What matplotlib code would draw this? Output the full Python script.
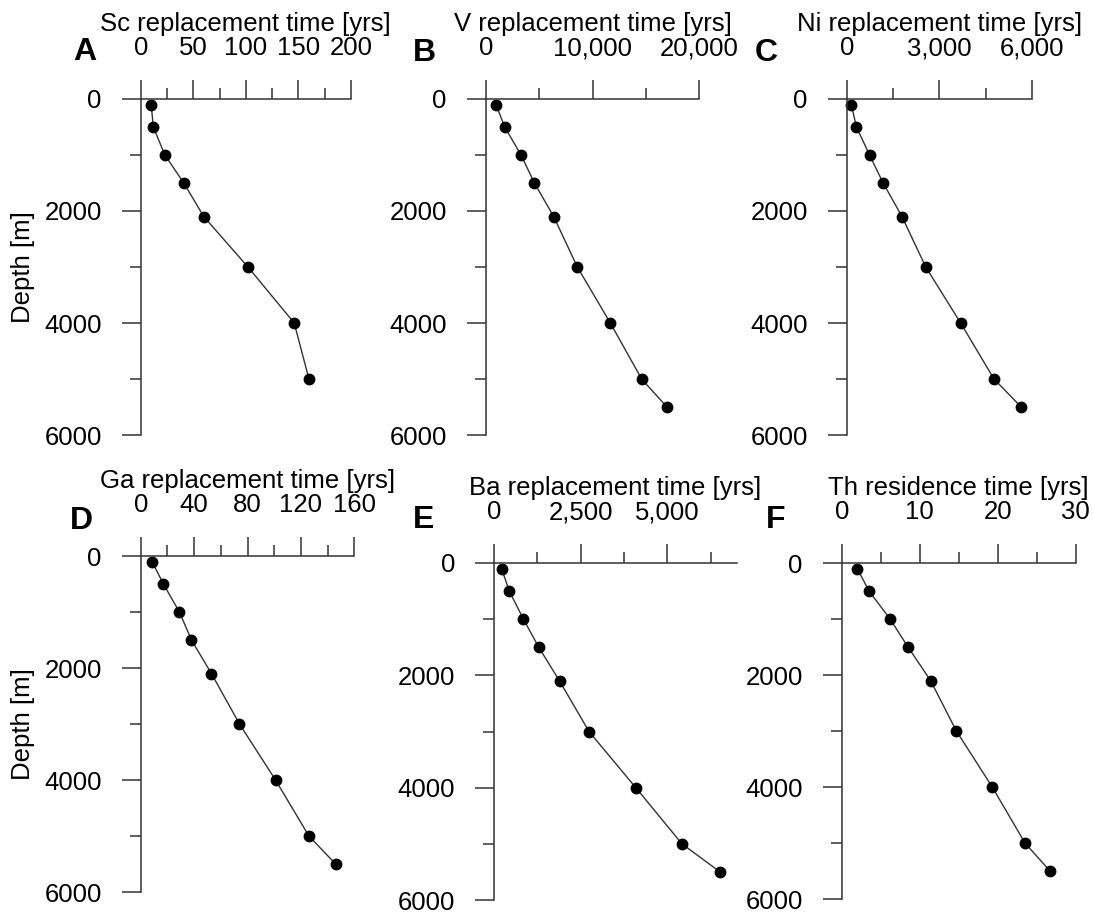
import matplotlib
matplotlib.use('Agg')
import matplotlib.pyplot as plt
from matplotlib.ticker import MultipleLocator, StrMethodFormatter

plt.rcParams['font.family'] = ['Liberation Sans', 'DejaVu Sans']
plt.rcParams['font.size'] = 18.5

# depth of each sample [m]
depth = [100, 500, 1000, 1500, 2100, 3000, 4000, 5000, 5500]

# replacement / residence times [yrs]
sc_time = [10, 12, 23, 41, 60, 102, 146, 160]
v_time = [970, 1780, 3310, 4560, 6370, 8580, 11670, 14600, 16970]
ni_time = [150, 315, 740, 1180, 1790, 2560, 3690, 4770, 5650]
ga_time = [8.5, 17, 29, 38, 53, 74, 101, 126, 146]
ba_time = [220, 440, 850, 1290, 1890, 2740, 4090, 5420, 6520]
th_time = [2.0, 3.5, 6.2, 8.5, 11.4, 14.7, 19.3, 23.5, 26.7]

titles = ['Sc replacement time [yrs]', 'V replacement time [yrs]',
          'Ni replacement time [yrs]', 'Ga replacement time [yrs]',
          'Ba replacement time [yrs]', 'Th residence time [yrs]']
letters = ['A', 'B', 'C', 'D', 'E', 'F']
series = [sc_time, v_time, ni_time, ga_time, ba_time, th_time]
xmax = [200, 20000, 6000, 160, 7000, 30]
major = [50, 10000, 3000, 40, 2500, 10]

W, H = 1093, 913
# axes boxes in pixels: left, right, top, bottom
boxes = [(140.7, 351.0, 99, 435), (485.7, 699.3, 99, 435), (846.7, 1032.0, 99, 435),
         (140.7, 354.3, 556, 892), (494.0, 736.7, 563, 900), (841.7, 1075.7, 563, 899)]
letter_pos = [(85, 52), (424, 53), (766, 53), (81, 521), (424, 520), (776, 520)]

fig = plt.figure(figsize=(W / 100, H / 100), dpi=100)
ink = 'black'

for i in range(6):
    l, r, t, b = boxes[i]
    ax = fig.add_axes([l / W, 1 - b / H, (r - l) / W, (b - t) / H])
    vals = series[i]
    ax.plot(vals, depth[:len(vals)], '-', color='#333333', lw=1.0,
            marker='o', ms=7.5, mfc='black', mec='black', clip_on=False)

    ax.set_xlim(0, xmax[i])
    ax.set_ylim(6000, 0)
    ax.xaxis.set_major_locator(MultipleLocator(major[i]))
    ax.xaxis.set_minor_locator(MultipleLocator(major[i] / 2))
    ax.yaxis.set_major_locator(MultipleLocator(2000))
    ax.yaxis.set_minor_locator(MultipleLocator(1000))
    ax.xaxis.set_major_formatter(StrMethodFormatter('{x:,.0f}'))

    ax.xaxis.tick_top()
    ax.xaxis.set_label_position('top')
    ax.spines['right'].set_visible(False)
    ax.spines['bottom'].set_visible(False)
    for s in ['left', 'top']:
        ax.spines[s].set_color('#333333')
        ax.spines[s].set_linewidth(1.1)

    ax.tick_params(which='major', direction='out', length=13.5, width=1.1,
                   color='#333333', labelcolor=ink, labelsize=18.5, pad=14.5)
    ax.tick_params(which='minor', direction='out', length=8, width=1.1,
                   color='#333333')

    ax.set_xlabel(titles[i], fontsize=18.5, color=ink, labelpad=3.5)
    if i in (0, 3):
        ax.set_ylabel('Depth [m]', fontsize=18.5, color=ink, labelpad=7)

    lx, ly = letter_pos[i]
    fig.text(lx / W, 1 - ly / H, letters[i], fontsize=23, fontweight='bold',
             color='black', ha='center', va='center')

fig.savefig('out.png', dpi=100)
